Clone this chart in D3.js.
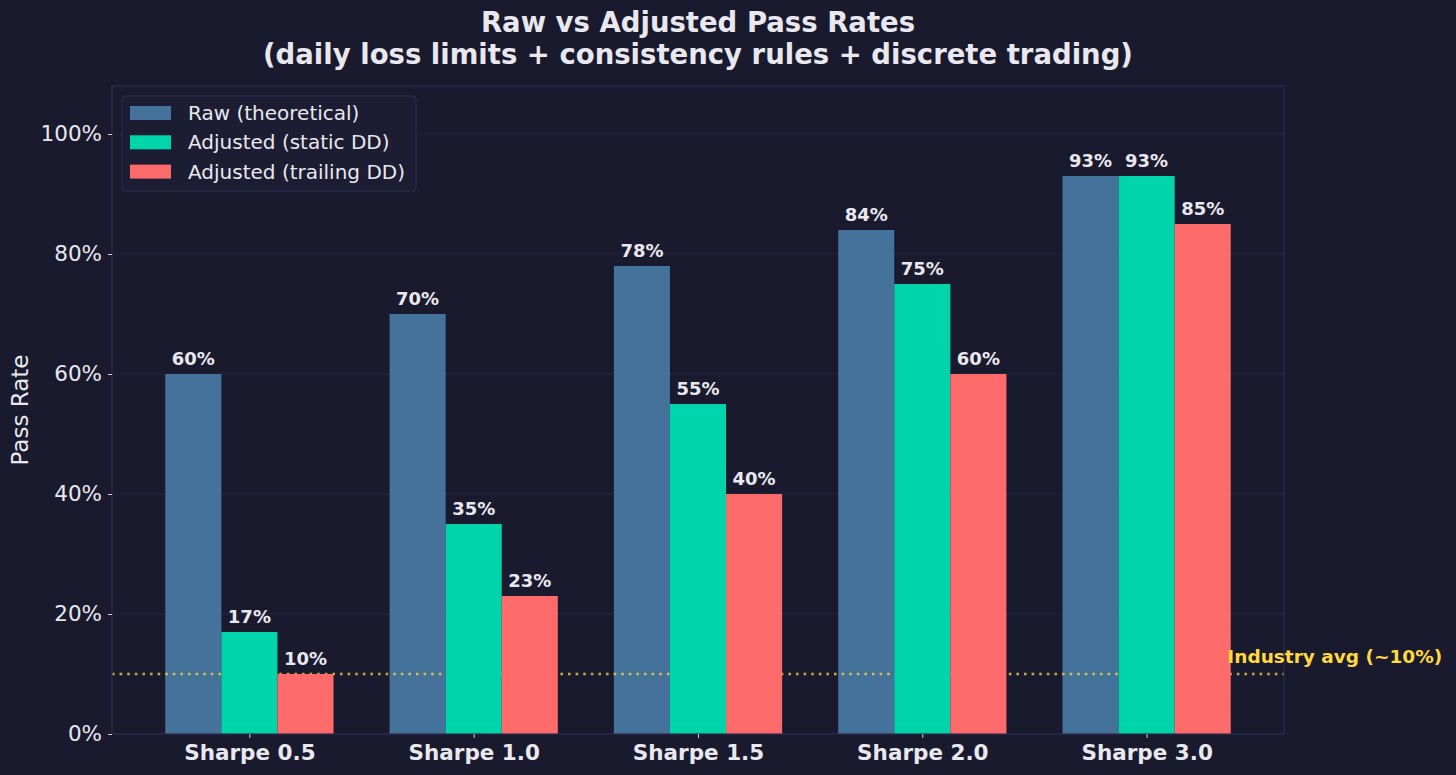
<!DOCTYPE html>
<html>
<head>
<meta charset="utf-8">
<script src="https://cdn.jsdelivr.net/npm/d3@7"></script>
<style>
  body { margin: 0; background: #1a1a2e; }
  svg { display: block; font-family: "DejaVu Sans", sans-serif; }
</style>
</head>
<body>
<div id="chart"></div>
<script>
// data
const categories = ["Sharpe 0.5", "Sharpe 1.0", "Sharpe 1.5", "Sharpe 2.0", "Sharpe 3.0"];
const rawRates = [60, 70, 78, 84, 93];
const staticRates = [17, 35, 55, 75, 93];
const trailingRates = [10, 23, 40, 60, 85];
const seriesNames = ["Raw (theoretical)", "Adjusted (static DD)", "Adjusted (trailing DD)"];
const yTicks = [0, 20, 40, 60, 80, 100];
const industryAvg = 10;

const settings = {
    width: 1456,
    height: 775,
    left: 112,
    right: 1284,
    top: 86,
    bottom: 734,
    barWidth: 0.25,
    bg: "#1a1a2e",
    text: "#e8e8ee",
}

const colors = ["#44729a", "#00d4aa", "#ff6b6b"];
const series = [rawRates, staticRates, trailingRates];

const svg = d3.select("#chart").append("svg")
    .attr("width", settings.width)
    .attr("height", settings.height);

svg.append("rect").attr("width", settings.width).attr("height", settings.height).attr("fill", settings.bg);

// scales (matplotlib-like margins)
const x = d3.scaleLinear()
    .domain([-0.6125, categories.length - 1 + 0.6125])
    .range([settings.left, settings.right]);
const y = d3.scaleLinear()
    .domain([0, 108])
    .range([settings.bottom, settings.top]);

// grid
svg.append("g").selectAll("line")
    .data(yTicks)
    .join("line")
    .attr("x1", settings.left).attr("x2", settings.right)
    .attr("y1", d => y(d)).attr("y2", d => y(d))
    .attr("stroke", "#2a2a48")
    .attr("stroke-width", 0.8);

const barLayers = series.map(() => svg.append("g"));

// industry line sits between raw bars and adjusted bars
const refLine = svg.append("line")
    .attr("x1", settings.left).attr("x2", settings.right)
    .attr("y1", y(industryAvg)).attr("y2", y(industryAvg))
    .attr("stroke", "#ffd93d")
    .attr("stroke-opacity", 0.75)
    .attr("stroke-width", 2.6)
    .attr("stroke-dasharray", "2.6,5");
barLayers[1].raise();
barLayers[2].raise();

// bars
series.forEach((vals, s) => {
    const offset = (s - 1) * settings.barWidth;
    const g = barLayers[s];
    g.selectAll("rect")
        .data(vals)
        .join("rect")
        .attr("x", (d, i) => x(i + offset - settings.barWidth / 2))
        .attr("width", x(settings.barWidth) - x(0))
        .attr("y", d => y(d))
        .attr("height", d => y(0) - y(d))
        .attr("fill", colors[s]);
});

// value labels
series.forEach((vals, s) => {
    const offset = (s - 1) * settings.barWidth;
    svg.append("g").selectAll("text")
        .data(vals)
        .join("text")
        .attr("x", (d, i) => x(i + offset))
        .attr("y", d => y(d) - 9)
        .attr("text-anchor", "middle")
        .attr("fill", settings.text)
        .style("font-size", "18px")
        .style("font-weight", "bold")
        .text(d => d + "%");
});

// spines
svg.append("rect")
    .attr("x", settings.left).attr("y", settings.top)
    .attr("width", settings.right - settings.left)
    .attr("height", settings.bottom - settings.top)
    .attr("fill", "none")
    .attr("stroke", "#2c2c4c")
    .attr("stroke-width", 1.2);

// y axis
const yAxis = svg.append("g")
    .attr("transform", `translate(${settings.left},0)`)
    .call(d3.axisLeft(y).tickValues(yTicks).tickFormat(d => d + "%").tickSize(4).tickPadding(6));
yAxis.select(".domain").remove();
yAxis.selectAll("line").attr("stroke", "#cccccc");
yAxis.selectAll("text").attr("fill", settings.text).style("font-size", "21.5px").style("font-family", "DejaVu Sans");

// x axis
const xAxis = svg.append("g")
    .attr("transform", `translate(0,${settings.bottom})`)
    .call(d3.axisBottom(x).tickValues(d3.range(categories.length)).tickFormat(i => categories[i]).tickSize(4).tickPadding(7));
xAxis.select(".domain").remove();
xAxis.selectAll("line").attr("stroke", "#cccccc");
xAxis.selectAll("text").attr("fill", settings.text).style("font-size", "21.5px")
    .style("font-weight", "bold").style("font-family", "DejaVu Sans");

// axis label
svg.append("text")
    .attr("transform", `translate(28,${(settings.top + settings.bottom) / 2}) rotate(-90)`)
    .attr("text-anchor", "middle")
    .attr("fill", settings.text)
    .style("font-size", "23px")
    .text("Pass Rate");

// title
const title = svg.append("text")
    .attr("text-anchor", "middle")
    .attr("fill", settings.text)
    .style("font-size", "27.5px")
    .style("font-weight", "bold");
title.append("tspan").attr("x", 698).attr("y", 32).text("Raw vs Adjusted Pass Rates");
title.append("tspan").attr("x", 698).attr("y", 64).text("(daily loss limits + consistency rules + discrete trading)");

// industry label
svg.append("text")
    .attr("x", x(4.36))
    .attr("y", y(industryAvg) - 11)
    .attr("fill", "#ffd93d")
    .style("font-size", "18.5px")
    .style("font-weight", "bold")
    .text("Industry avg (~10%)");

// legend
const legend = svg.append("g").attr("transform", "translate(122,96)");
legend.append("rect")
    .attr("width", 294).attr("height", 95).attr("rx", 3)
    .attr("fill", "#1c1c33")
    .attr("stroke", "#2e2e50");
seriesNames.forEach((name, i) => {
    const row = legend.append("g").attr("transform", `translate(8,${10 + i * 29.3})`);
    row.append("rect").attr("width", 41).attr("height", 14).attr("fill", colors[i]);
    row.append("text").attr("x", 58).attr("y", 14).attr("fill", settings.text)
        .style("font-size", "20px").text(name);
});
</script>
</body>
</html>
